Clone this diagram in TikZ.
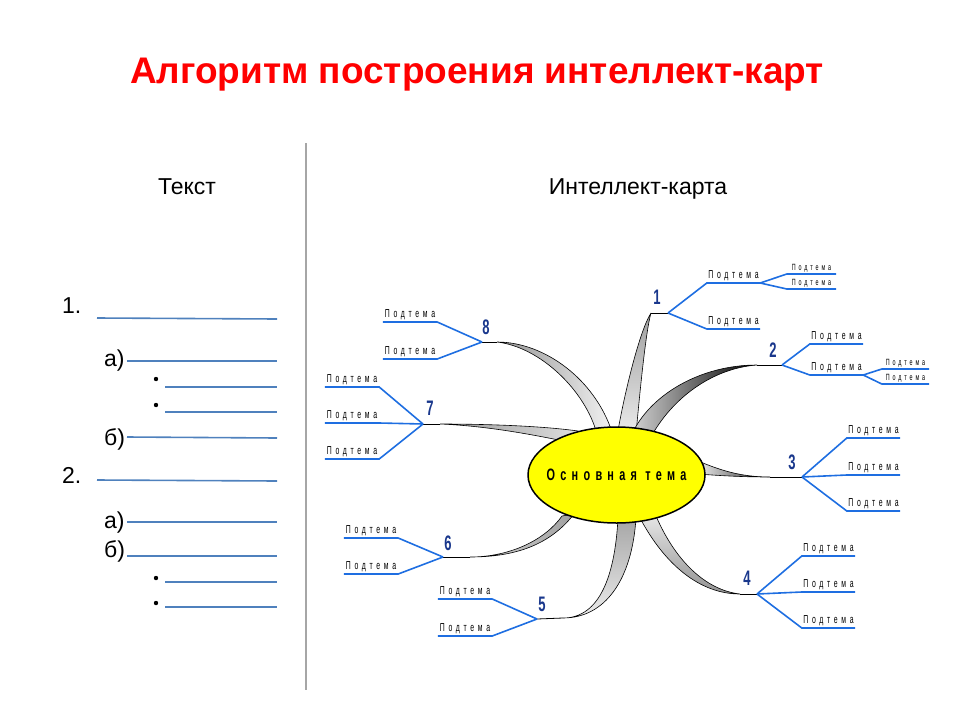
\documentclass[tikz,border=0pt]{standalone}
\usepackage{fontspec}
\setmainfont{Liberation Sans}
\newfontfamily\themefont[FakeStretch=0.66,LetterSpace=32]{Liberation Sans}
\newfontfamily\subfont[FakeStretch=0.6,LetterSpace=32]{Liberation Sans}
\newfontfamily\numfont[FakeStretch=0.62]{Liberation Sans}
\usetikzlibrary{shapes.geometric}

\definecolor{titlered}{RGB}{255,0,0}
\definecolor{listblue}{RGB}{79,129,189}
\definecolor{mapblue}{RGB}{30,110,225}
\definecolor{numblue}{RGB}{25,55,140}
\definecolor{themeyellow}{RGB}{255,255,0}

\begin{document}
\begin{tikzpicture}[x=1pt,y=-1pt,
    mapline/.style={line width=1.6pt, mapblue},
    listline/.style={line width=1.6pt, listblue},
    subtopic/.style={anchor=south, minimum width=54pt, inner xsep=0pt, inner ysep=2pt, font=\subfont\fontsize{11.5}{11.5}\selectfont},
    subsubtopic/.style={subtopic, minimum width=48pt, font=\subfont\fontsize{9}{9}\selectfont},
    num/.style={font=\numfont\bfseries\fontsize{21}{21}\selectfont, text=numblue, inner sep=0pt},
    ribbon/.style={draw=black, line width=0.6pt},
    listlabel/.style={anchor=base west, inner sep=0pt, font=\fontsize{23}{23}\selectfont}]
    \useasboundingbox (0,0) rectangle (960,720);

    % Title and column headers
    \node[anchor=base, font=\bfseries\fontsize{37}{37}\selectfont, text=titlered] (title) at (477,83) {Алгоритм построения интеллект-карт};
    \node[anchor=base, font=\fontsize{23}{23}\selectfont] (textttl) at (187,194) {Текст};
    \node[anchor=base, font=\fontsize{23}{23}\selectfont] (mapttl) at (638,194) {Интеллект-карта};
    \draw[gray!70, line width=1.5pt] (306,143) -- (306,690);

    % Text outline on the left
    \node[listlabel] (n1) at (62,313) {1.};
    \draw[listline] (97,318) -- (277,319);
    \node[listlabel] (n1a) at (104,366) {а)};
    \draw[listline] (127,361) -- (277,361);
    \draw[listline] (165,387) -- (277,387);
    \draw[listline] (165,412) -- (277,412);
    \node[listlabel] (n1b) at (104,445) {б)};
    \draw[listline] (127,437) -- (277,438);
    \node[listlabel] (n2) at (62,483) {2.};
    \draw[listline] (97,480) -- (277,481);
    \node[listlabel] (n2a) at (104,528) {а)};
    \draw[listline] (127,522) -- (277,522);
    \node[listlabel] (n2b) at (104,557) {б)};
    \draw[listline] (127,556) -- (277,556);
    \draw[listline] (165,582) -- (277,582);
    \draw[listline] (165,607) -- (277,607);
    \foreach \y in {379,405,578,603}
        \fill (156,\y) circle (2.2);

    % Fork points and ribbon ends
    \coordinate (f1) at (668,313); \coordinate (e1) at (651,313);
    \coordinate (f2) at (782,365); \coordinate (e2) at (757,365);
    \coordinate (f3) at (802,477); \coordinate (e3) at (770,477);
    \coordinate (f4) at (757,594); \coordinate (e4) at (740,594);
    \coordinate (f5) at (537,619); \coordinate (e5) at (563,618);
    \coordinate (f6) at (443,557); \coordinate (e6) at (470,557);
    \coordinate (f7) at (423,424); \coordinate (e7) at (440,424);
    \coordinate (f8) at (482,342); \coordinate (e8) at (497,342);

    % Ribbons from the main topic
    \path[ribbon, left color=gray!85, right color=gray!10] (e8) .. controls (545,342) and (595,380) .. (612,432) -- (597,434) .. controls (585,390) and (540,347) .. (e8);
    \path[ribbon, left color=gray!80, right color=gray!25] (e7) .. controls (500,424) and (550,427) .. (578,431) -- (578,444) .. controls (540,436) and (490,426) .. (e7);
    \path[ribbon, top color=gray!75, bottom color=gray!15] (e1) .. controls (640,330) and (625,390) .. (617,436) -- (636,434) .. controls (640,390) and (646,330) .. (e1);
    \path[ribbon, left color=gray!35, right color=black] (e2) .. controls (700,365) and (650,395) .. (632,434) -- (652,435) .. controls (675,395) and (715,368) .. (e2);
    \path[ribbon, left color=gray!15, right color=black!85] (e3) .. controls (740,477) and (720,470) .. (698,461) -- (698,474) .. controls (725,476) and (745,477) .. (e3);
    \path[ribbon, top color=gray!20, bottom color=gray!85] (e4) .. controls (700,594) and (665,565) .. (640,518) -- (656,516) .. controls (675,560) and (705,590) .. (e4);
    \path[ribbon, top color=gray!70, bottom color=gray!15] (e5) .. controls (600,618) and (615,575) .. (618,518) -- (636,518) .. controls (632,580) and (605,618) .. (e5);
    \path[ribbon, left color=gray!30, right color=gray!75] (e6) .. controls (510,557) and (545,540) .. (562,516) -- (574,514) .. controls (550,545) and (515,557) .. (e6);
    \foreach \k in {1,...,8}
        \draw[line width=0.8pt] (e\k) -- (f\k);

    % Main topic
    \node[ellipse, draw, line width=1.5pt, fill=themeyellow, minimum width=177pt, minimum height=96pt, inner sep=0pt] (theme) at (616.5,475) {};
    \node[font=\themefont\bfseries\fontsize{16.5}{16.5}\selectfont] (themetext) at (theme.center) {Основная тема};

    % Branch numbers
    \node[num] (num1) at (657,297) {1};
    \node[num] (num2) at (773,350) {2};
    \node[num] (num3) at (792,462) {3};
    \node[num] (num4) at (747,578) {4};
    \node[num] (num5) at (542,604) {5};
    \node[num] (num6) at (448,543) {6};
    \node[num] (num7) at (430,408) {7};
    \node[num] (num8) at (486,327) {8};

    % Branch 1
    \node[subtopic, minimum width=53pt] (s11) at (733.5,283) {Подтема};
    \node[subtopic, minimum width=53pt] (s12) at (733.5,329) {Подтема};
    \node[subsubtopic, minimum width=49pt] (s111) at (811.5,274) {Подтема};
    \node[subsubtopic, minimum width=49pt] (s112) at (811.5,289) {Подтема};
    \draw[mapline] (f1) -- (s11.south west) -- (s11.south east);
    \draw[mapline] (f1) -- (s12.south west) -- (s12.south east);
    \draw[mapline] (s11.south east) -- (s111.south west) -- (s111.south east);
    \draw[mapline] (s11.south east) -- (s112.south west) -- (s112.south east);

    % Branch 2
    \node[subtopic, minimum width=53pt] (s21) at (836.5,344) {Подтема};
    \node[subtopic, minimum width=53pt] (s22) at (836.5,375) {Подтема};
    \node[subsubtopic, minimum width=47pt] (s221) at (905.5,369) {Подтема};
    \node[subsubtopic, minimum width=47pt] (s222) at (905.5,384) {Подтема};
    \draw[mapline] (f2) -- (s21.south west) -- (s21.south east);
    \draw[mapline] (f2) -- (s22.south west) -- (s22.south east);
    \draw[mapline] (s22.south east) -- (s221.south west) -- (s221.south east);
    \draw[mapline] (s22.south east) -- (s222.south west) -- (s222.south east);

    % Branch 3
    \node[subtopic, minimum width=53pt] (s31) at (873.5,438) {Подтема};
    \node[subtopic, minimum width=53pt] (s32) at (873.5,475) {Подтема};
    \node[subtopic, minimum width=53pt] (s33) at (873.5,511) {Подтема};
    \draw[mapline] (f3) -- (s31.south west) -- (s31.south east);
    \draw[mapline] (f3) -- (s32.south west) -- (s32.south east);
    \draw[mapline] (f3) -- (s33.south west) -- (s33.south east);

    % Branch 4
    \node[subtopic, minimum width=53pt] (s41) at (828.5,556) {Подтема};
    \node[subtopic, minimum width=53pt] (s42) at (828.5,592) {Подтема};
    \node[subtopic, minimum width=53pt] (s43) at (828.5,628) {Подтема};
    \draw[mapline] (f4) -- (s41.south west) -- (s41.south east);
    \draw[mapline] (f4) -- (s42.south west) -- (s42.south east);
    \draw[mapline] (f4) -- (s43.south west) -- (s43.south east);

    % Branch 5
    \node[subtopic] (s51) at (465,599) {Подтема};
    \node[subtopic] (s52) at (465,636) {Подтема};
    \draw[mapline] (f5) -- (s51.south east) -- (s51.south west);
    \draw[mapline] (f5) -- (s52.south east) -- (s52.south west);

    % Branch 6
    \node[subtopic] (s61) at (371,538) {Подтема};
    \node[subtopic] (s62) at (371,574) {Подтема};
    \draw[mapline] (f6) -- (s61.south east) -- (s61.south west);
    \draw[mapline] (f6) -- (s62.south east) -- (s62.south west);

    % Branch 7
    \node[subtopic] (s71) at (352,387) {Подтема};
    \node[subtopic] (s72) at (352,423) {Подтема};
    \node[subtopic] (s73) at (352,459) {Подтема};
    \draw[mapline] (f7) -- (s71.south east) -- (s71.south west);
    \draw[mapline] (f7) -- (s72.south east) -- (s72.south west);
    \draw[mapline] (f7) -- (s73.south east) -- (s73.south west);

    % Branch 8
    \node[subtopic] (s81) at (410,322) {Подтема};
    \node[subtopic] (s82) at (410,359) {Подтема};
    \draw[mapline] (f8) -- (s81.south east) -- (s81.south west);
    \draw[mapline] (f8) -- (s82.south east) -- (s82.south west);
\end{tikzpicture}
\end{document}
